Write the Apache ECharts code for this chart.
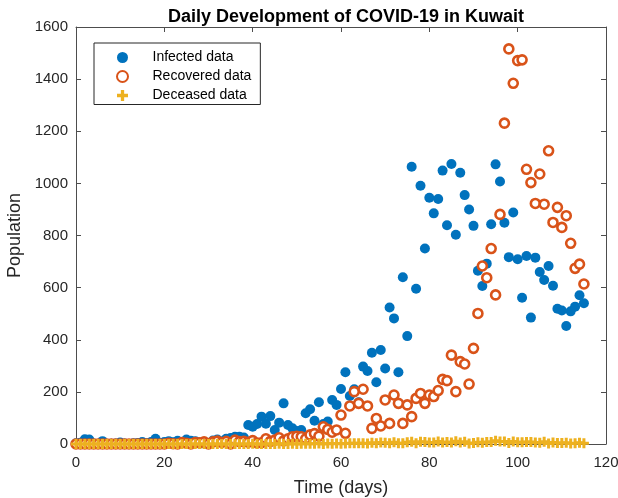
<!DOCTYPE html>
<html>
<head>
<meta charset="utf-8">
<script src="https://cdn.jsdelivr.net/npm/echarts@6/dist/echarts.min.js"></script>
<style>
  html, body { margin: 0; padding: 0; background: #fff; }
  #chart { width: 618px; height: 498px; }
</style>
</head>
<body>
<div id="chart"></div>
<script>
// 每日新增数据 (第 0 天起)
const infected = [
  3, 5, 18, 17, 2, 0, 11, 0, 1, 2, 6, 2, 0, 3, 4, 8, 3, 8, 20, 4,
  8, 11, 7, 12, 6, 17, 12, 11, 1, 2, 4, 13, 17, 10, 20, 23, 28, 28, 25, 73,
  66, 77, 105, 78, 107, 54, 82, 156, 73, 60, 50, 54, 118, 133, 89, 160, 77, 86, 169, 150,
  211, 275, 184, 210, 160, 297, 280, 350, 237, 361, 290, 524, 482, 275, 640, 414, 1064, 596, 991, 750,
  945, 885, 940, 1049, 839, 1074, 803, 1041, 955, 900, 837, 665, 606, 692, 843, 1073, 1007, 849, 717, 888,
  709, 561, 721, 485, 715, 660, 629, 683, 607, 519, 512, 453, 509, 527, 571, 540
]
const recovered = [
  0, 0, 0, 0, 0, 0, 0, 0, 0, 0, 0, 0, 0, 0, 0, 0, 0, 0, 0, 0,
  0, 3, 1, 0, 6, 3, 0, 6, 5, 8, 0, 8, 11, 6, 10, 0, 15, 9, 10, 7,
  13, 4, 5, 20, 10, 15, 24, 12, 20, 28, 30, 28, 20, 35, 40, 30, 66, 56, 45, 54,
  111, 41, 146, 201, 156, 210, 146, 60, 98, 69, 169, 79, 188, 156, 79, 150, 105, 175, 194, 156,
  188, 182, 205, 248, 243, 341, 201, 316, 307, 230, 367, 501, 683, 638, 750, 572, 881, 1231, 1516, 1384,
  1471, 1474, 1054, 1003, 923, 1036, 920, 1125, 850, 908, 831, 876, 770, 674, 690, 614
]
const deceased = [
  0, 0, 0, 0, 0, 0, 0, 0, 0, 0, 0, 0, 0, 0, 0, 0, 0, 0, 0, 0,
  0, 0, 0, 0, 0, 0, 0, 0, 0, 0, 0, 0, 0, 0, 0, 0, 0, 0, 0, 0,
  1, 0, 0, 0, 0, 0, 1, 0, 0, 1, 0, 1, 1, 1, 1, 2, 0, 2, 1, 2,
  1, 2, 3, 3, 3, 3, 2, 5, 3, 6, 5, 3, 7, 3, 3, 7, 9, 3, 9, 8,
  6, 6, 10, 6, 8, 6, 11, 6, 9, 2, 4, 7, 5, 8, 8, 12, 10, 10, 4, 10,
  7, 7, 8, 8, 6, 5, 9, 2, 6, 4, 4, 5, 2, 3, 5, 3
]
const xTicks = { min: 0, max: 120, interval: 20 }
const yTicks = { min: 0, max: 1600, interval: 200 }

const toPoints = arr => arr.map((v, i) => [i, v])
const plusIcon = 'path://M-1.2,-4H1.2V-1.2H4V1.2H1.2V4H-1.2V1.2H-4V-1.2H-1.2Z'
const fontFamily = '"Liberation Sans", Arial, sans-serif'
const axisColor = '#4d4d4d'

const chart = echarts.init(document.getElementById('chart'), null, { renderer: 'canvas' })

/* 四条边框轴 + 内侧刻度 */
const baseAxis = {
  type: 'value',
  axisLine: { show: true, onZero: false, lineStyle: { color: axisColor, width: 1 } },
  axisTick: { show: true, inside: true, length: 5, lineStyle: { color: axisColor } },
  splitLine: { show: false },
  axisLabel: { color: '#262626', fontSize: 15, fontFamily: fontFamily, formatter: v => String(v) }
}

const option = {
  backgroundColor: '#fff',
  animation: false,
  title: {
    text: 'Daily Development of COVID-19 in Kuwait',
    left: 341,
    top: 3,
    textAlign: 'center',
    textStyle: { fontSize: 18, fontWeight: 'bold', color: '#000', fontFamily: fontFamily }
  },
  legend: {
    orient: 'vertical',
    left: 94,
    top: 43,
    padding: [7.5, 9, 2, 22],
    itemWidth: 50,
    itemHeight: 11,
    itemGap: 5,
    borderColor: '#262626',
    borderWidth: 1,
    backgroundColor: '#fff',
    textStyle: { fontSize: 14, color: '#000', fontFamily: fontFamily },
    data: ['Infected data', 'Recovered data', 'Deceased data']
  },
  grid: { left: 76, right: 12, top: 27, bottom: 54, containLabel: false, outerBoundsMode: 'none' },
  xAxis: [
    Object.assign({}, baseAxis, xTicks, {
      position: 'bottom',
      name: 'Time (days)',
      nameLocation: 'middle',
      nameGap: 35,
      nameTextStyle: { fontSize: 18, color: '#262626', fontFamily: fontFamily },
      axisLabel: Object.assign({}, baseAxis.axisLabel, { margin: 11 })
    }),
    Object.assign({}, baseAxis, xTicks, { position: 'top', axisLabel: { show: false } })
  ],
  yAxis: [
    Object.assign({}, baseAxis, yTicks, {
      position: 'left',
      name: 'Population',
      nameLocation: 'middle',
      nameGap: 46,
      nameTextStyle: { fontSize: 18, color: '#262626', fontFamily: fontFamily },
      axisLabel: Object.assign({}, baseAxis.axisLabel, { margin: 8 })
    }),
    Object.assign({}, baseAxis, yTicks, { position: 'right', axisLabel: { show: false } })
  ],
  series: [
    {
      name: 'Infected data',
      type: 'scatter',
      symbol: 'circle',
      symbolSize: 10,
      itemStyle: { color: '#0072BD', opacity: 1 },
      data: toPoints(infected)
    },
    {
      name: 'Recovered data',
      type: 'scatter',
      symbol: 'circle',
      symbolSize: 9,
      itemStyle: { color: '#fff', borderColor: '#D95319', borderWidth: 2.6, opacity: 1 },
      data: toPoints(recovered)
    },
    {
      name: 'Deceased data',
      type: 'scatter',
      symbol: plusIcon,
      symbolSize: 10,
      itemStyle: { color: '#EDB120', opacity: 1 },
      data: toPoints(deceased)
    }
  ]
}

chart.setOption(option)
</script>
</body>
</html>
